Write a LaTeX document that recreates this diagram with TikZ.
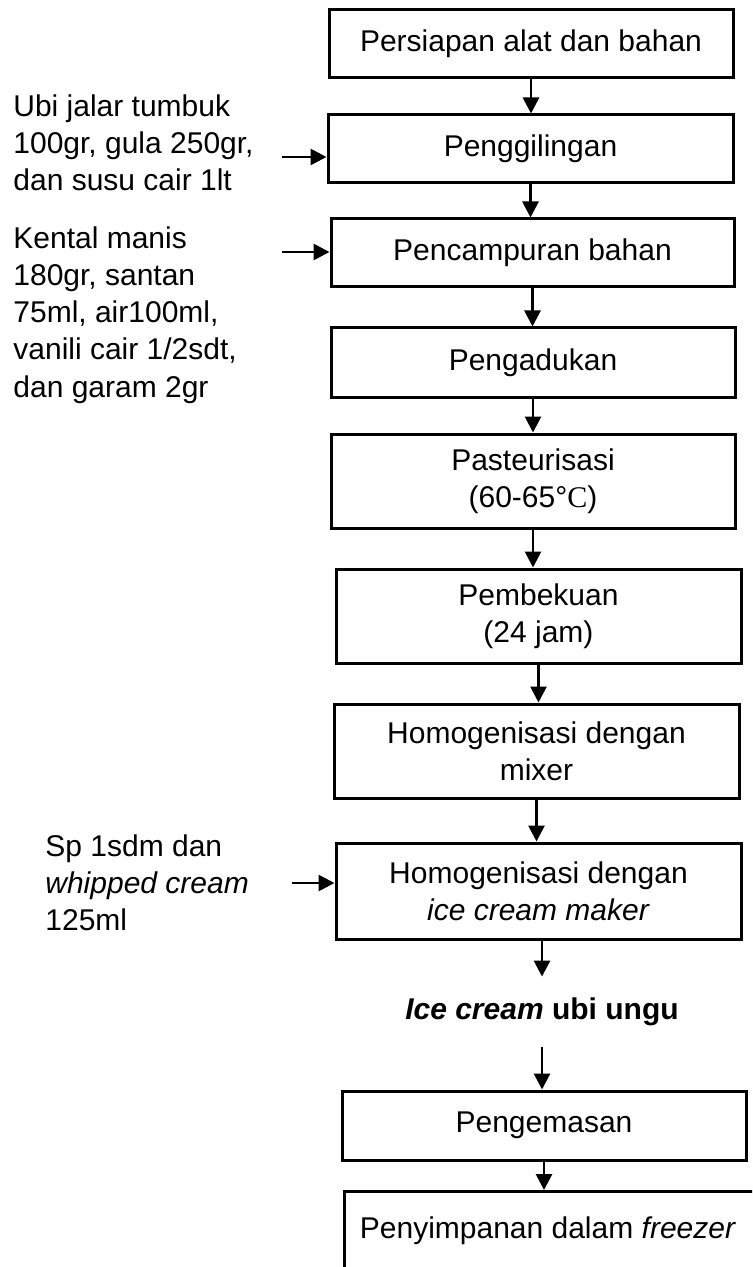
\documentclass[tikz,border=0pt]{standalone}
\usepackage{fontspec}
\setmainfont{Liberation Sans}
\newfontfamily\serifC{Liberation Serif}
\usetikzlibrary{arrows.meta}
\newcommand*{\teks}{\fontsize{15}{18.6}\selectfont}
\newcommand*{\tahap}[5]{%
  \node [tahapbox, minimum width=#3*0.5pt, minimum height=#4*0.5pt]
        (#1) at (#2) {#5};
}

\begin{document}
\begin{tikzpicture}[x=0.5pt, y=-0.5pt,
    tahapbox/.style = {draw, line width=1.5pt, align=center, font=\teks, inner sep=0pt},
    panah/.style = {line width=1.4pt, -{Triangle[length=8pt,width=8pt]}},
    bahan/.style = {anchor=west, align=left, inner sep=0pt, font=\teks}]
    \useasboundingbox (0,0) rectangle (752,1267);
    \clip (0,0) rectangle (752,1267);

    % alur utama
    \tahap{siap}{531,44}{404}{68}{Persiapan alat dan bahan}
    \tahap{giling}{530.5,149}{405}{68}{Penggilingan}
    \tahap{campur}{532.5,253}{403}{68}{Pencampuran bahan}
    \tahap{aduk}{533,362.5}{404}{69}{Pengadukan}
    \tahap{pasteur}{533,481}{404}{94}{Pasteurisasi\\(60-65°{\serifC C})}
    \tahap{beku}{538.5,616}{405}{94}{Pembekuan\\(24 jam)}
    \tahap{mixer}{536.5,751}{405}{94}{Homogenisasi dengan\\mixer}
    \tahap{maker}{538.5,891}{405}{96}{Homogenisasi dengan\\\textit{ice cream maker}}
    \node [font=\fontsize{15}{18}\selectfont\bfseries, inner sep=10.5pt]
          (hasil) at (542,1012) {\textit{Ice cream} ubi ungu};
    \tahap{kemas}{544,1125.5}{404}{69}{Pengemasan}
    \node [draw, line width=1.5pt, anchor=north west, inner sep=0pt,
           minimum width=440*0.5pt, minimum height=120*0.5pt] (simpan) at (343,1190) {};
    \node [font=\teks] (simpanteks) at (548,1231) {Penyimpanan dalam \textit{freezer}};

    \foreach \a/\b in {siap/giling, giling/campur, campur/aduk, aduk/pasteur,
                       pasteur/beku, beku/mixer, mixer/maker, kemas/simpan}
      \draw [panah] (\a.south) -- (\a.south |- \b.north);
    \draw [panah] (hasil.north |- maker.south) -- (hasil.north);
    \draw [panah] (hasil.south) -- (hasil.south |- kemas.north);

    % bahan tambahan
    \node [bahan] (bahanA) at (13,143) {Ubi jalar tumbuk\\100gr, gula 250gr,\\dan susu cair 1lt};
    \node [bahan] (bahanB) at (13,315) {Kental manis\\180gr, santan\\75ml, air100ml,\\vanili cair 1/2sdt,\\dan garam 2gr};
    \node [bahan] (bahanC) at (45,883) {Sp 1sdm dan\\\textit{whipped cream}\\125ml};

    \coordinate (masukA) at (282,157);
    \coordinate (masukB) at (282,252);
    \coordinate (masukC) at (292,883);
    \draw [panah] (masukA) -- (masukA -| giling.west);
    \draw [panah] (masukB) -- (masukB -| campur.west);
    \draw [panah] (masukC) -- (masukC -| maker.west);
\end{tikzpicture}
\end{document}
